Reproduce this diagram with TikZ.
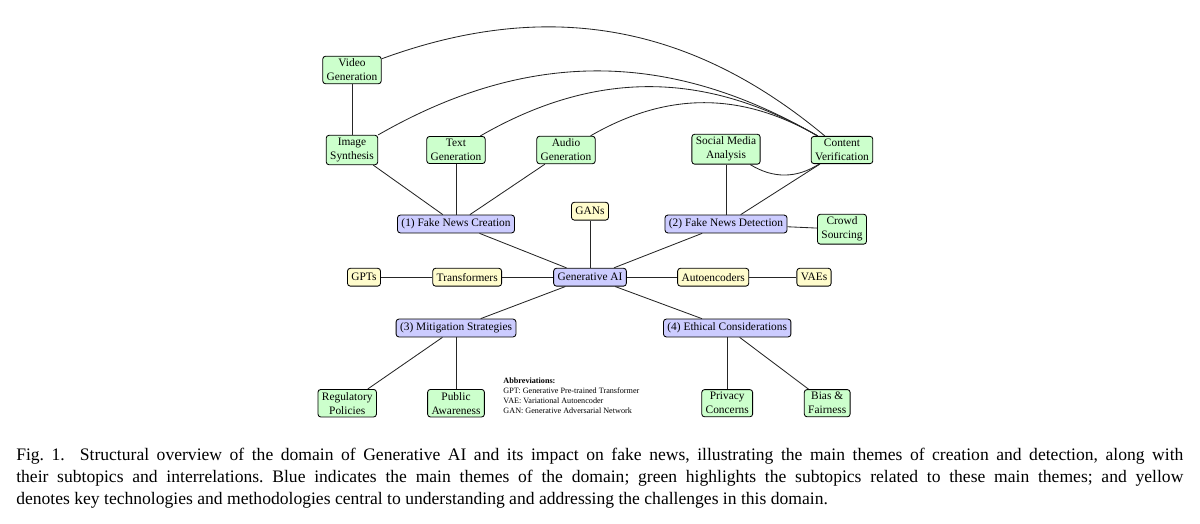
\documentclass[tikz,border=0pt]{standalone}
\usepackage{fontspec}
\setmainfont{Liberation Serif}

\begin{document}
\frenchspacing
\begin{tikzpicture}[
  themebox/.style={draw=black, fill=blue!20, rectangle, rounded corners=2pt,
    align=center, font=\fontsize{8.1}{9.9}\selectfont, inner xsep=2.8pt,
    inner ysep=2pt, minimum height=12.7pt, line width=0.6pt},
  subbox/.style={themebox, fill=green!20},
  techbox/.style={themebox, fill=yellow!20},
  ln/.style={draw=black!85, line width=0.6pt},
]
\useasboundingbox (0,0) rectangle (30,-13.075);

%--- Kern ---
\node[themebox] (gai) at (14.75,-6.93) {Generative AI};

%--- Hoofdthema's ---
\node[themebox] (fnc) at (11.4,-5.6)  {(1) Fake News Creation};
\node[themebox] (fnd) at (18.15,-5.6) {(2) Fake News Detection};
\node[themebox] (ms)  at (11.4,-8.2)  {(3) Mitigation Strategies};
\node[themebox] (ec)  at (18.18,-8.2) {(4) Ethical Considerations};

%--- Technieken ---
\node[techbox] (gans) at (14.75,-5.28) {GANs};
\node[techbox] (tf)   at (11.68,-6.93) {Transformers};
\node[techbox] (gpts) at (9.1,-6.93)   {GPTs};
\node[techbox] (ae)   at (17.83,-6.93) {Autoencoders};
\node[techbox] (vaes) at (20.35,-6.93) {VAEs};

%--- Subonderwerpen creatie ---
\node[subbox] (vg) at (8.8,-1.75)   {Video\\Generation};
\node[subbox] (is) at (8.8,-3.75)   {Image\\Synthesis};
\node[subbox] (tg) at (11.4,-3.75)  {Text\\Generation};
\node[subbox] (ag) at (14.15,-3.75) {Audio\\Generation};

%--- Subonderwerpen detectie ---
\node[subbox] (sma) at (18.15,-3.73) {Social Media\\Analysis};
\node[subbox] (cv)  at (21.05,-3.75) {Content\\Verification};
\node[subbox] (cs)  at (21.05,-5.73) {Crowd\\Sourcing};

%--- Subonderwerpen mitigatie en ethiek ---
\node[subbox] (rp) at (8.68,-10.08)  {Regulatory\\Policies};
\node[subbox] (pa) at (11.4,-10.08)  {Public\\Awareness};
\node[subbox] (pc) at (18.18,-10.08) {Privacy\\Concerns};
\node[subbox] (bf) at (20.68,-10.08) {Bias \&\\Fairness};

%--- Verbindingen ---
\draw[ln] (gai) -- (fnc);
\draw[ln] (gai) -- (fnd);
\draw[ln] (gai) -- (ms);
\draw[ln] (gai) -- (ec);
\draw[ln] (gai) -- (gans);
\draw[ln] (gai) -- (tf);
\draw[ln] (tf) -- (gpts);
\draw[ln] (gai) -- (ae);
\draw[ln] (ae) -- (vaes);

\draw[ln] (fnc) -- (is);
\draw[ln] (fnc) -- (tg);
\draw[ln] (fnc) -- (ag);
\draw[ln] (is) -- (vg);

\draw[ln] (fnd) -- (sma);
\draw[ln] (fnd) -- (cv);
\draw[ln] (fnd) -- (cs);

\draw[ln] (ms) -- (rp);
\draw[ln] (ms) -- (pa);
\draw[ln] (ec) -- (pc);
\draw[ln] (ec) -- (bf);

%--- Dwarsverbanden ---
\draw[ln] (vg) to[bend left=30] (cv);
\draw[ln] (is) to[bend left=30] (cv);
\draw[ln] (tg) to[bend left=30] (cv);
\draw[ln] (ag) to[bend left=30] (cv);
\draw[ln] (sma) to[bend right=32] (cv);

%--- Afkortingen ---
\node[anchor=north west, align=left, inner sep=0pt,
  font=\fontsize{5.8}{7.3}\selectfont] (abbr) at (12.58,-9.43)
  {\textbf{Abbreviations:}\\
   GPT: Generative Pre-trained Transformer\\
   VAE: Variational Autoencoder\\
   GAN: Generative Adversarial Network};

%--- Onderschrift ---
\node[anchor=north west, inner sep=0pt, text width=29.175cm, align=justify,
  font=\fontsize{12.5}{15.6}\selectfont] (cap) at (0.4,-11.2)
  {Fig.~1.\ \ Structural overview of the domain of Generative AI and its
   impact on fake news, illustrating the main themes of creation and detection,
   along with\linebreak their subtopics and interrelations. Blue indicates the
   main themes of the domain; green highlights the subtopics related to these
   main themes; and yellow\linebreak denotes key technologies and methodologies
   central to understanding and addressing the challenges in this domain.};

\end{tikzpicture}
\end{document}
